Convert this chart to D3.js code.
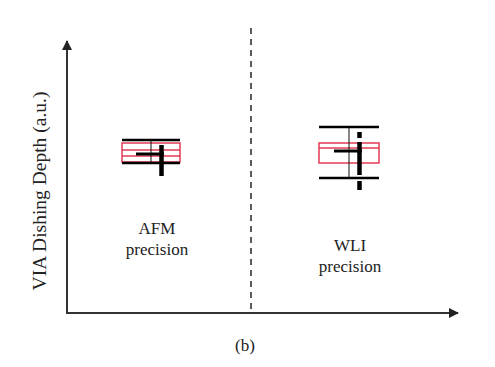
<!DOCTYPE html>
<html><head><meta charset="utf-8">
<script src="https://cdn.jsdelivr.net/npm/d3@7"></script>
<style>body{margin:0;background:#fff}</style>
</head><body><svg id="c" width="495" height="367"></svg>
<script>
// Schematic values in arbitrary units (y) and arbitrary x positions
const groups = ["AFM", "WLI"];
const groupLabels = [["AFM", "precision"], ["WLI", "precision"]];
const centerX = [84, 282];
const halfWidth = [29, 30];
const capTop = [17.3, 18.6];
const capBottom = [15.0, 13.5];
const boxTop = [17.0, 17.0];
const boxBottom = [15.1, 15.0];
const boxInner = [[16.3, 15.7], [16.5]];
const meanValue = [15.9, 16.2];
const spreadTop = [16.8, 18.1];
const spreadBottom = [13.7, 12.3];
const dividerX = 184;

const FONT = "'Liberation Serif'";
const svg = d3.select("#c");
const x = d3.scaleLinear().domain([0, 390]).range([67, 457]);
const y = d3.scaleLinear().domain([0, 27]).range([313, 43]);

svg.append("line").attr("x1", x(dividerX)).attr("x2", x(dividerX))
  .attr("y1", 28).attr("y2", y(0)).attr("stroke", "#333").attr("stroke-width", 1.6)
  .attr("stroke-dasharray", "6,5");

const defs = svg.append("defs");
defs.append("marker").attr("id", "arr").attr("viewBox", "0 0 10 10")
  .attr("refX", 9).attr("refY", 5).attr("markerWidth", 5).attr("markerHeight", 5)
  .attr("markerUnits", "strokeWidth").attr("orient", "auto")
  .append("path").attr("d", "M0,0 L10,5 L0,10 Z").attr("fill", "#222");
svg.append("line").attr("x1", x(0)).attr("x2", x(0)).attr("y1", y(0)+1).attr("y2", 41)
  .attr("stroke", "#333").attr("stroke-width", 2).attr("marker-end", "url(#arr)");
svg.append("line").attr("x1", x(0)-1).attr("x2", 458).attr("y1", y(0)).attr("y2", y(0))
  .attr("stroke", "#333").attr("stroke-width", 2).attr("marker-end", "url(#arr)");

const red = "#e23b55";
groups.forEach((g, i) => {
  const cx = centerX[i], hw = halfWidth[i];
  const G = svg.append("g");
  G.append("rect").attr("x", x(cx - hw)).attr("y", y(boxTop[i]))
    .attr("width", x(cx + hw) - x(cx - hw)).attr("height", y(boxBottom[i]) - y(boxTop[i]))
    .attr("fill", "none").attr("stroke", red).attr("stroke-width", 1.5);
  boxInner[i].forEach(v => G.append("line").attr("x1", x(cx - hw)).attr("x2", x(cx + hw))
    .attr("y1", y(v)).attr("y2", y(v)).attr("stroke", red).attr("stroke-width", 1.5));
  G.append("line").attr("x1", x(cx)).attr("x2", x(cx)).attr("y1", y(capTop[i])).attr("y2", y(capBottom[i]))
    .attr("stroke", "#111").attr("stroke-width", 1);
  [capTop[i], capBottom[i]].forEach(v => G.append("line").attr("x1", x(cx - hw)).attr("x2", x(cx + hw))
    .attr("y1", y(v)).attr("y2", y(v)).attr("stroke", "#000").attr("stroke-width", 2.6));
  G.append("line").attr("x1", x(cx - 15)).attr("x2", x(cx + 13)).attr("y1", y(meanValue[i])).attr("y2", y(meanValue[i]))
    .attr("stroke", "#000").attr("stroke-width", 3);
  const tl = G.append("line").attr("x1", x(cx + 10.5)).attr("x2", x(cx + 10.5))
    .attr("y1", y(spreadTop[i])).attr("y2", y(spreadBottom[i]))
    .attr("stroke", "#000").attr("stroke-width", 4.5);
  if (i === 1) tl.attr("stroke-dasharray", "6,4,33,6,20");
  groupLabels[i].forEach((t, k) => G.append("text").attr("x", x(cx) + (i === 0 ? 6 : 1))
    .attr("y", (i === 0 ? 234 : 251) + k * 21).attr("text-anchor", "middle")
    .style("font-family", FONT).style("font-size", "17px").attr("fill", "#222").text(t));
});

svg.append("text").attr("transform", "translate(46,191) rotate(-90)").attr("text-anchor", "middle")
  .style("font-family", FONT).style("font-size", "19.5px").attr("fill", "#222").text("VIA Dishing Depth (a.u.)");
svg.append("text").attr("x", 245).attr("y", 351).attr("text-anchor", "middle")
  .style("font-family", FONT).style("font-size", "17px").attr("fill", "#222").text("(b)");
</script></body></html>
